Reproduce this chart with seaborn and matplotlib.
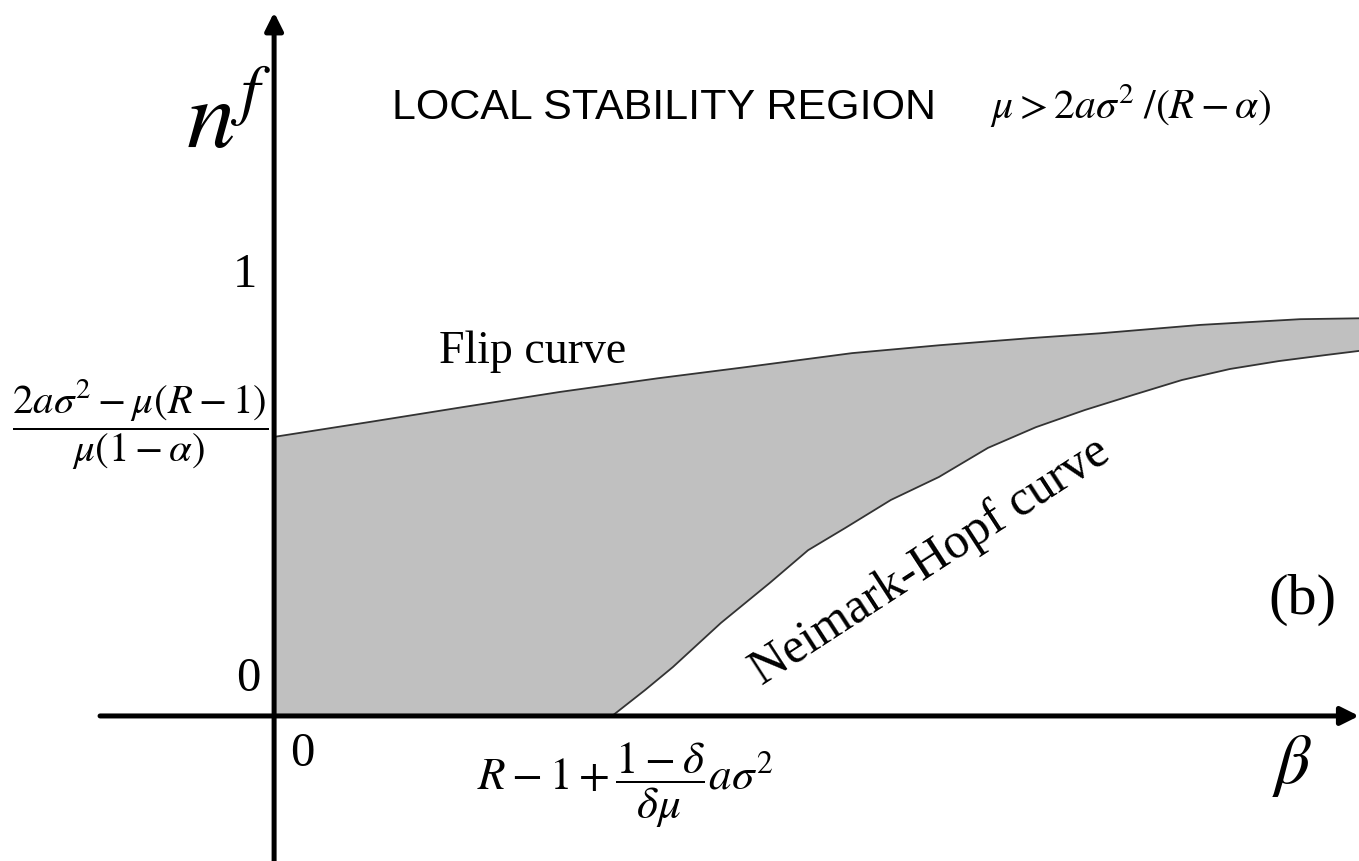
import numpy as np
import seaborn as sns
from matplotlib import pyplot as plt

# curve values (beta, n^f)
flip_beta = [0.0, 0.284, 0.562, 0.846, 1.136, 1.393, 1.710, 1.970, 2.237, 2.444, 2.740, 3.036, 3.210]
flip_nf = [0.633, 0.667, 0.701, 0.735, 0.766, 0.791, 0.823, 0.841, 0.857, 0.868, 0.887, 0.900, 0.902]

hopf_beta = [1.0, 1.098, 1.180, 1.322, 1.467, 1.580, 1.689, 1.825, 1.967, 2.112, 2.254, 2.399,
             2.541, 2.686, 2.828, 2.973, 3.115, 3.210]
hopf_nf = [0.0, 0.059, 0.111, 0.211, 0.302, 0.376, 0.426, 0.490, 0.542, 0.608, 0.655, 0.694,
           0.728, 0.762, 0.787, 0.805, 0.819, 0.828]

W, H = 1359, 861


def fx(px):
    return px / W


def fy(py):
    return 1 - py / H


def main():
    sns.set_theme(style="white")
    plt.rcParams["mathtext.fontset"] = "stix"
    plt.rcParams["font.family"] = ["Liberation Serif", "DejaVu Serif"]
    plt.rcParams["text.color"] = "black"

    fig = plt.figure(figsize=(W / 100, H / 100), dpi=100)
    ax = fig.add_axes([0, 0, 1, 1])
    ax.set_xlim(-0.811, 3.210)
    ax.set_ylim(-0.329, 1.624)
    ax.axis("off")

    # stability region between the two curves
    poly_x = np.concatenate([flip_beta, hopf_beta[::-1], [0.0]])
    poly_y = np.concatenate([flip_nf, hopf_nf[::-1], [0.0]])
    ax.fill(poly_x, poly_y, color="#c0c0c0", lw=0, zorder=1)

    sns.lineplot(x=flip_beta, y=flip_nf, ax=ax, color="#333333", lw=1.3, zorder=2)
    sns.lineplot(x=hopf_beta, y=hopf_nf, ax=ax, color="#333333", lw=1.3, zorder=2)

    # axes with arrows
    arrow = dict(arrowstyle="-|>,head_length=0.9,head_width=0.45", lw=3.6, color="black",
                 shrinkA=0, shrinkB=0, mutation_scale=12)
    ax.annotate("", xy=(3.21, 0), xytext=(-0.515, 0), arrowprops=arrow, zorder=3)
    ax.annotate("", xy=(0, 1.596), xytext=(0, -0.33), arrowprops=arrow, zorder=3)

    fig.text(fx(229), fy(125), r"$n^f$", fontsize=70, ha="center", va="center")
    fig.text(fx(392), fy(119), "LOCAL STABILITY REGION", family="Liberation Sans",
             fontsize=31, ha="left", va="baseline")
    fig.text(fx(990), fy(119), r"$\mu > 2a\sigma^2\;/(R-\alpha)$", fontsize=30,
             ha="left", va="baseline")

    fig.text(fx(245), fy(275), "1", fontsize=35, ha="center", va="center")
    fig.text(fx(140), fy(425), r"$\dfrac{2a\sigma^2-\mu(R-1)}{\mu(1-\alpha)}$",
             fontsize=29.5, ha="center", va="center")
    fig.text(fx(248), fy(679), "0", fontsize=35, ha="center", va="center")
    fig.text(fx(302), fy(754), "0", fontsize=35, ha="center", va="center")
    fig.text(fx(625), fy(785), r"$R-1+\dfrac{1-\delta}{\delta\mu}a\sigma^2$",
             fontsize=32.5, ha="center", va="center")
    fig.text(fx(1292), fy(766), r"$\beta$", fontsize=50, ha="center", va="center")

    fig.text(fx(533), fy(352), "Flip curve", fontsize=33, ha="center", va="center")
    fig.text(fx(930), fy(562), "Neimark-Hopf curve", fontsize=36, ha="center",
             va="center", rotation=33, rotation_mode="anchor")
    fig.text(fx(1302), fy(600), "(b)", fontsize=42, ha="center", va="center")

    fig.savefig("out.png", dpi=100)
    plt.close(fig)


if __name__ == '__main__':
    main()
